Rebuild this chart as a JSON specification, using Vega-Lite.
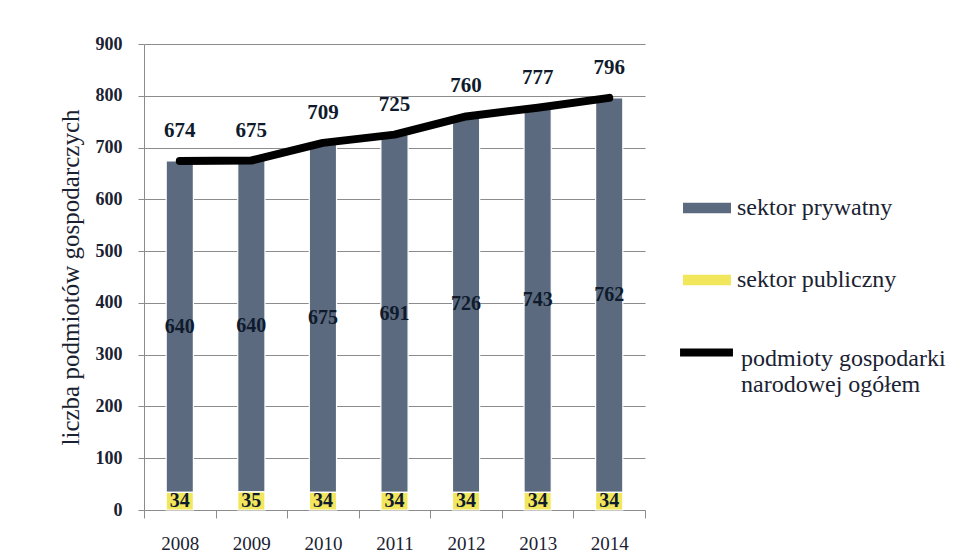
{
  "$schema": "https://vega.github.io/schema/vega-lite/v6.json",
  "autosize": {"type": "none"},
  "width": 501,
  "height": 466,
  "padding": {"left": 144, "top": 44, "right": 325, "bottom": 50},
  "background": "white",
  "config": {
    "font": "Liberation Serif",
    "view": {"stroke": null},
    "axis": {"labelFont": "Liberation Serif", "titleFont": "Liberation Serif"},
    "legend": {"labelFont": "Liberation Serif"}
  },
  "datasets": {
    "bars": [
      {"rok": "2008", "sektor": "sektor prywatny", "liczba": 640},
      {"rok": "2008", "sektor": "sektor publiczny", "liczba": 34},
      {"rok": "2009", "sektor": "sektor prywatny", "liczba": 640},
      {"rok": "2009", "sektor": "sektor publiczny", "liczba": 35},
      {"rok": "2010", "sektor": "sektor prywatny", "liczba": 675},
      {"rok": "2010", "sektor": "sektor publiczny", "liczba": 34},
      {"rok": "2011", "sektor": "sektor prywatny", "liczba": 691},
      {"rok": "2011", "sektor": "sektor publiczny", "liczba": 34},
      {"rok": "2012", "sektor": "sektor prywatny", "liczba": 726},
      {"rok": "2012", "sektor": "sektor publiczny", "liczba": 34},
      {"rok": "2013", "sektor": "sektor prywatny", "liczba": 743},
      {"rok": "2013", "sektor": "sektor publiczny", "liczba": 34},
      {"rok": "2014", "sektor": "sektor prywatny", "liczba": 762},
      {"rok": "2014", "sektor": "sektor publiczny", "liczba": 34}
    ],
    "total": [
      {"rok": "2008", "ogolem": 674},
      {"rok": "2009", "ogolem": 675},
      {"rok": "2010", "ogolem": 709},
      {"rok": "2011", "ogolem": 725},
      {"rok": "2012", "ogolem": 760},
      {"rok": "2013", "ogolem": 777},
      {"rok": "2014", "ogolem": 796}
    ]
  },
  "encoding": {
    "x": {
      "field": "rok",
      "type": "nominal",
      "scale": {"paddingInner": 0, "paddingOuter": 0},
      "axis": {
        "title": null,
        "labelAngle": 0,
        "labelFontSize": 19,
        "labelColor": "#1a2232",
        "labelPadding": 16,
        "domainColor": "#8c8c8c",
        "tickColor": "#8c8c8c",
        "tickBand": "extent",
        "tickSize": 8,
        "grid": false
      }
    }
  },
  "layer": [
    {
      "data": {"name": "bars"},
      "mark": {"type": "bar", "width": {"band": 0.38}, "stroke": "white", "strokeWidth": 1.2},
      "encoding": {
        "y": {
          "field": "liczba",
          "type": "quantitative",
          "stack": "zero",
          "scale": {"domain": [0, 900], "nice": false},
          "axis": {
            "title": "liczba podmiotów  gospodarczych",
            "titleFontSize": 25,
            "titleFontWeight": "normal",
            "titleColor": "#1a2232",
            "titlePadding": 12,
            "values": [0, 100, 200, 300, 400, 500, 600, 700, 800, 900],
            "labelFontSize": 18,
            "labelFontWeight": "bold",
            "labelColor": "#1a2232",
            "labelPadding": 16,
            "tickSize": 6,
            "tickColor": "#8c8c8c",
            "domainColor": "#8c8c8c",
            "gridColor": "#8c8c8c",
            "gridWidth": 1
          }
        },
        "color": {
          "field": "sektor",
          "type": "nominal",
          "scale": {"domain": ["sektor prywatny", "sektor publiczny"], "range": ["#5b6a7e", "#f2e65c"]},
          "legend": {
            "title": null,
            "orient": "none",
            "legendX": 539,
            "legendY": 140,
            "symbolType": "M-1,-0.22H1V0.22H-1Z",
            "symbolSize": 2304,
            "symbolStrokeWidth": 0,
            "labelFont": "Liberation Serif",
            "labelFontSize": 24,
            "labelColor": "#1a2232",
            "labelOffset": 6,
            "rowPadding": 36,
            "labelLimit": 300
          }
        },
        "order": {"field": "sektor", "sort": "descending"}
      }
    },
    {
      "data": {"name": "bars"},
      "mark": {"type": "text", "fontSize": 20, "fontWeight": "bold", "color": "#0f1b2d", "baseline": "middle"},
      "encoding": {
        "y": {"field": "liczba", "type": "quantitative", "stack": "zero", "bandPosition": 0.5},
        "detail": {"field": "sektor"},
        "order": {"field": "sektor", "sort": "descending"},
        "text": {"field": "liczba", "type": "quantitative"}
      }
    },
    {
      "data": {"name": "total"},
      "mark": {"type": "line", "strokeWidth": 8, "strokeCap": "round", "strokeJoin": "round"},
      "encoding": {
        "y": {"field": "ogolem", "type": "quantitative"},
        "stroke": {
          "datum": "podmioty gospodarki narodowej ogółem",
          "scale": {"range": ["black"]},
          "legend": {
            "title": null,
            "orient": "none",
            "legendX": 532,
            "legendY": 278,
            "symbolType": "stroke",
            "symbolSize": 2800,
            "symbolStrokeWidth": 8,
            "labelFont": "Liberation Serif",
            "labelFontSize": 24,
            "labelColor": "#1a2232",
            "labelOffset": 4,
            "labelLimit": 300,
            "labelBaseline": "top",
            "labelExpr": "datum.label == 'podmioty gospodarki narodowej ogółem' ? ['podmioty gospodarki', 'narodowej ogółem'] : datum.label",
            "encoding": {"labels": {"dy": {"value": -6}}}
          }
        }
      }
    },
    {
      "data": {"name": "total"},
      "mark": {"type": "text", "fontSize": 21, "fontWeight": "bold", "color": "#0f1b2d", "baseline": "middle", "dy": -30},
      "encoding": {
        "y": {"field": "ogolem", "type": "quantitative"},
        "text": {"field": "ogolem", "type": "quantitative"}
      }
    }
  ]
}
